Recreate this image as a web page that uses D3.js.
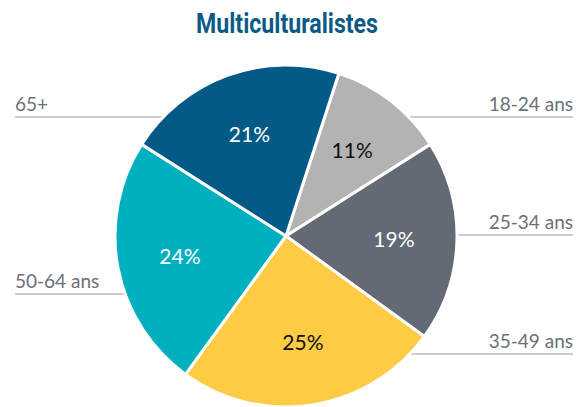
<!DOCTYPE html>
<html>
<head>
<meta charset="utf-8">
<title>Multiculturalistes</title>
<script src="https://d3js.org/d3.v7.min.js"></script>
<style>
  body { margin: 0; background: #fff; }
</style>
</head>
<body>
<div id="chart"></div>
<script>
// data
var categories = ["18-24 ans", "25-34 ans", "35-49 ans", "50-64 ans", "65+"];
var values = [11, 19, 25, 24, 21];
var colors = ["#b3b3b3", "#636a75", "#fecb45", "#00b0bf", "#045a87"];
var textColors = ["#111", "#fff", "#111", "#fff", "#fff"];

var width = 584, height = 407;
var cx = 286, cy = 236, r = 171;

var svg = d3.select("#chart").append("svg")
    .attr("width", width)
    .attr("height", height);

svg.append("text")
    .attr("x", 287)
    .attr("y", 33)
    .attr("text-anchor", "middle")
    .attr("textLength", 182)
    .attr("lengthAdjust", "spacingAndGlyphs")
    .style("font-family", "'Liberation Sans Narrow', 'Roboto', sans-serif")
    .style("font-weight", "bold")
    .style("font-size", "28px")
    .style("fill", "#0b5a85")
    .text("Multiculturalistes");

// label rows (line y, side)
var labelPos = {
  "18-24 ans": {y: 117, side: "right"},
  "25-34 ans": {y: 235, side: "right"},
  "35-49 ans": {y: 354, side: "right"},
  "50-64 ans": {y: 294, side: "left"},
  "65+": {y: 117, side: "left"}
};

var lab = svg.append("g");
categories.forEach(function(c) {
  var p = labelPos[c];
  var x1 = p.side == "left" ? 15 : cx;
  var x2 = p.side == "left" ? cx : 573;
  lab.append("line")
      .attr("x1", x1).attr("x2", x2)
      .attr("y1", p.y).attr("y2", p.y)
      .attr("stroke", "#cbcbcb")
      .attr("stroke-width", 2);
  lab.append("text")
      .attr("x", p.side == "left" ? 15 : 573)
      .attr("y", p.y - 6)
      .attr("text-anchor", p.side == "left" ? "start" : "end")
      .style("font-family", "Lato, sans-serif")
      .style("font-size", "19px")
      .style("fill", "#6b707a")
      .text(c);
});

var pie = d3.pie()
    .sort(null)
    .startAngle(18 * Math.PI / 180)
    .endAngle(18 * Math.PI / 180 + 2 * Math.PI)
    .value(function(d) { return d; });

var arc = d3.arc().innerRadius(0).outerRadius(r);
var labelArc = d3.arc().innerRadius(108).outerRadius(108);

var g = svg.append("g").attr("transform", "translate(" + cx + "," + cy + ")");

g.selectAll("path")
    .data(pie(values))
    .enter()
    .append("path")
    .attr("d", arc)
    .attr("fill", function(d) { return colors[d.index]; })
    .attr("stroke", "#fff")
    .attr("stroke-width", 3);

g.selectAll("text")
    .data(pie(values))
    .enter()
    .append("text")
    .attr("transform", function(d) { return "translate(" + labelArc.centroid(d) + ")"; })
    .attr("dy", "0.35em")
    .attr("text-anchor", "middle")
    .style("font-family", "Lato, sans-serif")
    .style("font-size", "21px")
    .style("fill", function(d) { return textColors[d.index]; })
    .text(function(d) { return d.data + "%"; });
</script>
</body>
</html>
